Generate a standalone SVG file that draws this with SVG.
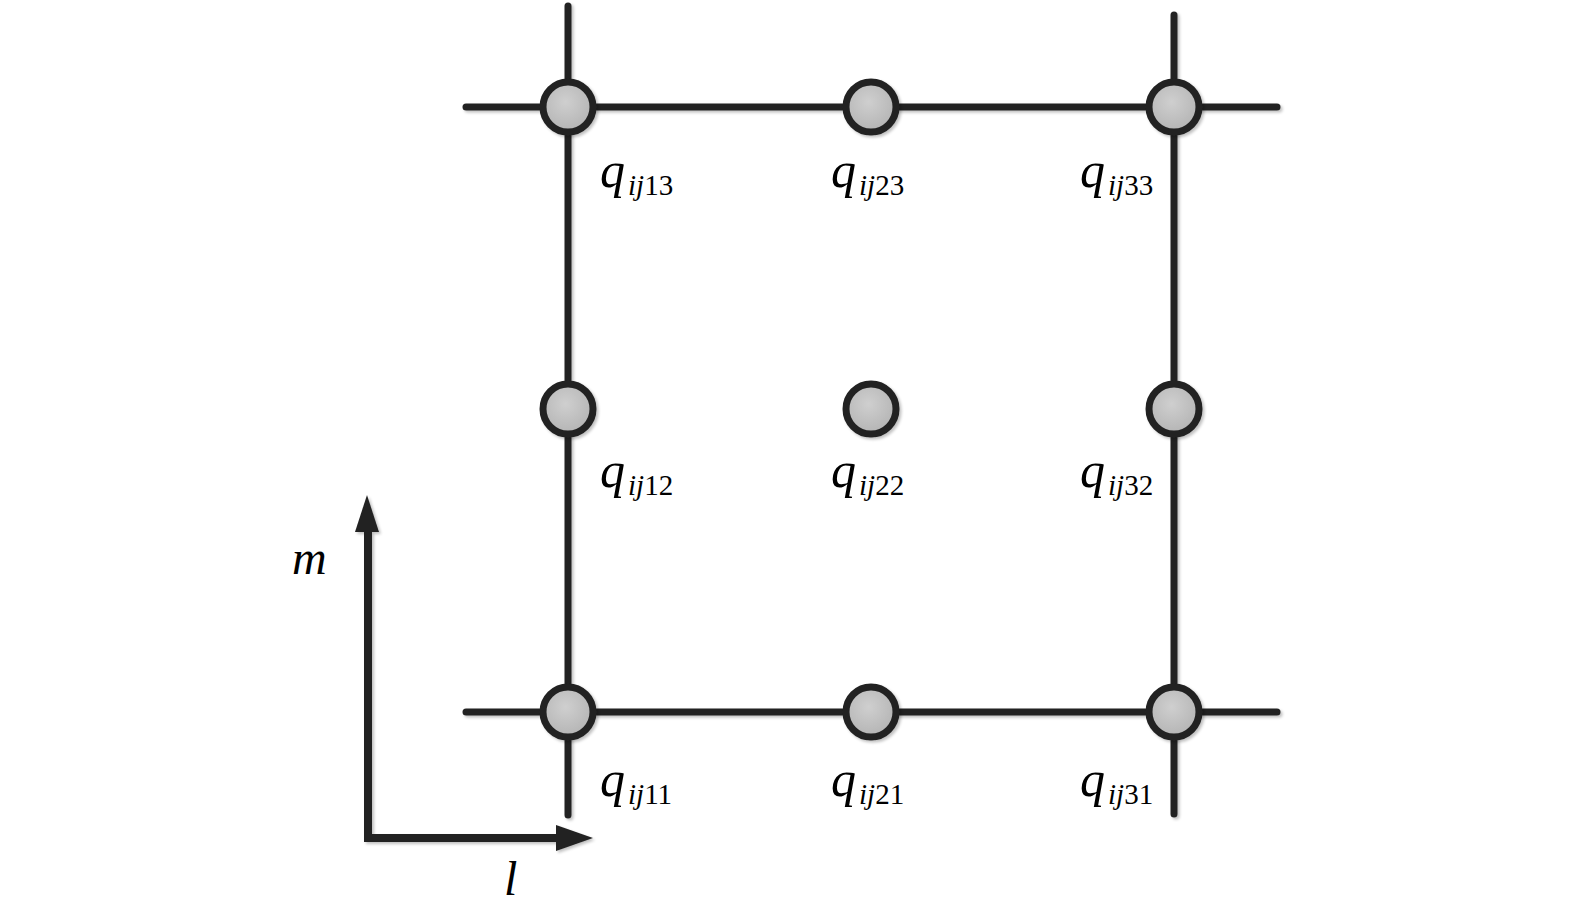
<svg xmlns="http://www.w3.org/2000/svg" width="1575" height="915" viewBox="0 0 1575 915">
<style>
.ln{stroke:#222;stroke-width:7;stroke-linecap:round;fill:none}
.nd{fill:url(#g);stroke:#222;stroke-width:7}
.q{font-family:"Liberation Serif",serif;font-style:italic;font-size:50px;fill:#000}
.s{font-size:29px}
.n{font-style:normal}
.ax{font-family:"Liberation Serif",serif;font-style:italic;font-size:48px;fill:#000}
</style>
<defs>
<radialGradient id="g" cx="0.45" cy="0.4" r="0.6">
<stop offset="0" stop-color="#cfcfcf"/>
<stop offset="1" stop-color="#b4b4b4"/>
</radialGradient>
<filter id="sh" x="-10%" y="-10%" width="130%" height="130%">
<feGaussianBlur in="SourceAlpha" stdDeviation="1.5"/>
<feOffset dx="2" dy="2" result="b"/>
<feComponentTransfer><feFuncA type="linear" slope="0.25"/></feComponentTransfer>
<feMerge><feMergeNode/><feMergeNode in="SourceGraphic"/></feMerge>
</filter>
</defs>
<rect width="1575" height="915" fill="#fff"/>
<g id="connectors" filter="url(#sh)">
<line class="ln" x1="466" y1="107" x2="1277" y2="107"/>
<line class="ln" x1="466" y1="712" x2="1277" y2="712"/>
<line class="ln" x1="568" y1="6" x2="568" y2="815"/>
<line class="ln" x1="1174" y1="15" x2="1174" y2="814"/>
</g>
<g id="axes" filter="url(#sh)">
<path d="M368,528 L368,838 L560,838" stroke="#222" stroke-width="8" fill="none" stroke-linejoin="miter"/>
<polygon points="367,495 379,532 355,532" fill="#222"/>
<polygon points="593,838 556,825 556,851" fill="#222"/>
</g>
<text class="ax" x="292" y="574">m</text>
<text class="ax" x="504" y="895">l</text>
<g id="n13" filter="url(#sh)"><circle class="nd" cx="568" cy="107" r="25"/></g>
<g id="n23" filter="url(#sh)"><circle class="nd" cx="871" cy="107" r="25"/></g>
<g id="n33" filter="url(#sh)"><circle class="nd" cx="1174" cy="107" r="25"/></g>
<g id="n12" filter="url(#sh)"><circle class="nd" cx="568" cy="409" r="25"/></g>
<g id="n22" filter="url(#sh)"><circle class="nd" cx="871" cy="409" r="25"/></g>
<g id="n32" filter="url(#sh)"><circle class="nd" cx="1174" cy="409" r="25"/></g>
<g id="n11" filter="url(#sh)"><circle class="nd" cx="568" cy="712" r="25"/></g>
<g id="n21" filter="url(#sh)"><circle class="nd" cx="871" cy="712" r="25"/></g>
<g id="n31" filter="url(#sh)"><circle class="nd" cx="1174" cy="712" r="25"/></g>
<g id="labels">
<text class="q" x="600" y="187">q<tspan class="s" dx="3" dy="8">ij</tspan><tspan class="s n">13</tspan></text>
<text class="q" x="831" y="187">q<tspan class="s" dx="3" dy="8">ij</tspan><tspan class="s n">23</tspan></text>
<text class="q" x="1080" y="187">q<tspan class="s" dx="3" dy="8">ij</tspan><tspan class="s n">33</tspan></text>
<text class="q" x="600" y="487">q<tspan class="s" dx="3" dy="8">ij</tspan><tspan class="s n">12</tspan></text>
<text class="q" x="831" y="487">q<tspan class="s" dx="3" dy="8">ij</tspan><tspan class="s n">22</tspan></text>
<text class="q" x="1080" y="487">q<tspan class="s" dx="3" dy="8">ij</tspan><tspan class="s n">32</tspan></text>
<text class="q" x="600" y="796">q<tspan class="s" dx="3" dy="8">ij</tspan><tspan class="s n">11</tspan></text>
<text class="q" x="831" y="796">q<tspan class="s" dx="3" dy="8">ij</tspan><tspan class="s n">21</tspan></text>
<text class="q" x="1080" y="796">q<tspan class="s" dx="3" dy="8">ij</tspan><tspan class="s n">31</tspan></text>
</g>
</svg>
